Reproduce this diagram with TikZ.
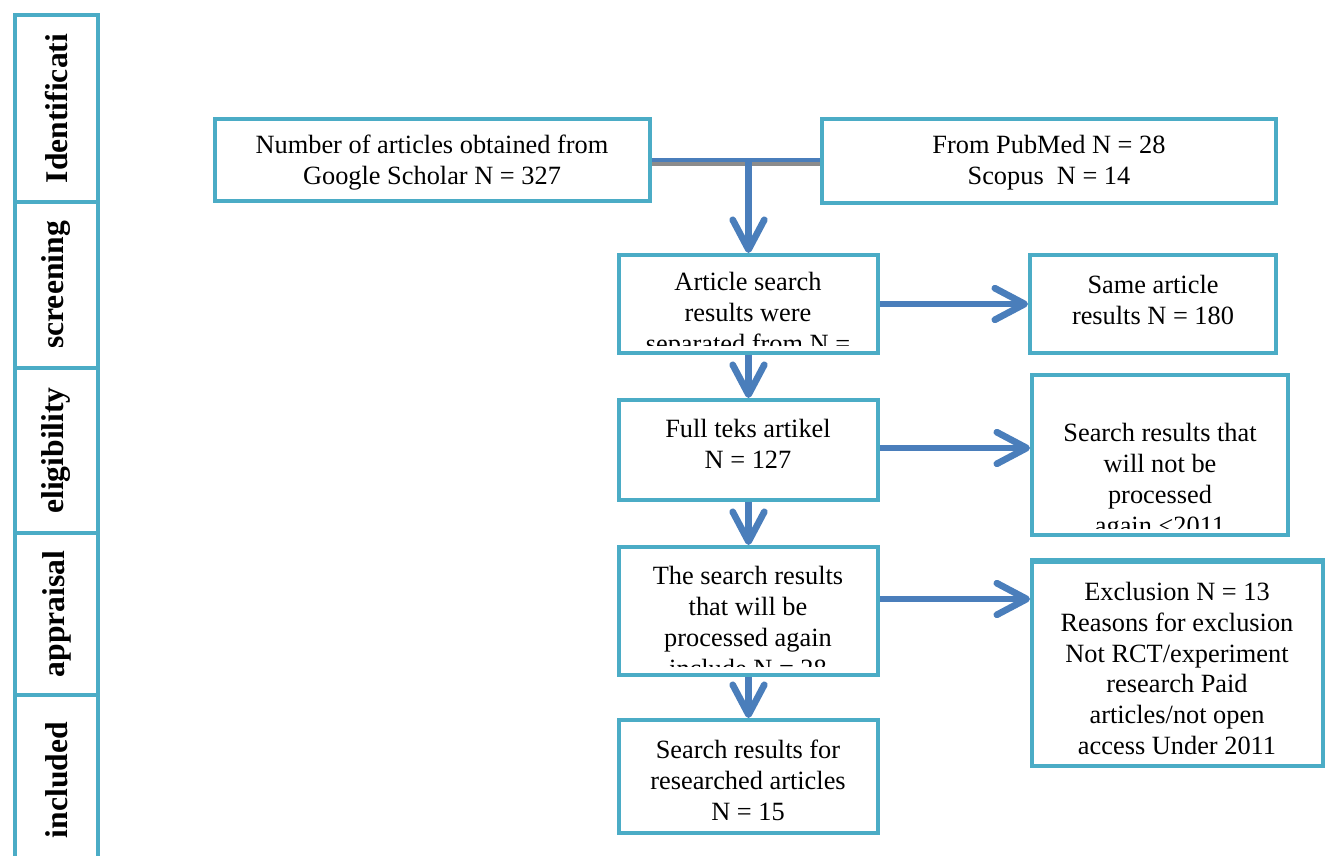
\documentclass[tikz,border=0pt]{standalone}
\usepackage{fontspec}
\setmainfont{Liberation Serif}
\usetikzlibrary{arrows.meta,calc}
\definecolor{boxteal}{HTML}{4BACC6}
\definecolor{arrowblue}{HTML}{4A7EBB}
\definecolor{shadowgray}{HTML}{8C8C8C}
\begin{document}
\begin{tikzpicture}[x=0.02cm,y=-0.02cm,
  box/.style={draw=boxteal, line width=2.3pt, inner sep=0pt, rectangle},
  side/.style={draw=boxteal, line width=2.3pt, inner sep=0pt, rectangle, minimum width=1.66cm,
    font=\fontsize{18}{20}\selectfont\bfseries},
  txt/.style={align=center, inner sep=0pt, font=\fontsize{15}{17.6}\selectfont},
  flow/.style={draw=arrowblue, line width=3.8pt, -{Straight Barb[length=17pt,width=18pt,round]}},
  joinline/.style={draw=arrowblue, line width=2.3pt},
  shadowline/.style={draw=shadowgray, line width=2.3pt}]
\useasboundingbox (0,0) rectangle (1328,855);

% stage column
\node[side, minimum height=3.74cm] (s1) at (56.5,108.5) {\rotatebox{90}{Identificati}};
\node[side, minimum height=3.32cm] (s2) at (56.5,285) {\rotatebox{90}{screening}};
\node[side, minimum height=3.30cm] (s3) at (56.5,450.5) {\rotatebox{90}{eligibility}};
\node[side, minimum height=3.24cm] (s4) at (56.5,614) {\rotatebox{90}{appraisal}};
\node[side, minimum height=3.40cm] (s5) at (56.5,780) {\rotatebox{90}{included}};

% boxes
\node[box, minimum width=8.70cm, minimum height=1.64cm] (b1) at (432.5,160) {};
\node[box, minimum width=9.08cm, minimum height=1.68cm] (b2) at (1049,161) {};
\node[box, minimum width=5.18cm, minimum height=1.96cm] (b3) at (748.5,304) {};
\node[box, minimum width=4.92cm, minimum height=1.96cm] (b4) at (1153,304) {};
\node[box, minimum width=5.18cm, minimum height=2.00cm] (b5) at (748.5,450) {};
\node[box, minimum width=5.12cm, minimum height=3.20cm] (b6) at (1160,455) {};
\node[box, minimum width=5.18cm, minimum height=2.56cm] (b7) at (748.5,611) {};
\node[box, minimum width=5.82cm, minimum height=4.08cm] (b8) at (1177.5,664) {};
\node[box, minimum width=5.18cm, minimum height=2.26cm] (b9) at (748.5,776.5) {};

% thin line below box b6
\draw[boxteal, line width=0.6pt] (1030,559) -- (1325,559);

% connectors
\coordinate (j) at (b3.north |- b1.east);
\draw[shadowline] ($(b1.east)+(0,4)$) -- ($(b2.west |- b1.east)+(0,4)$);
\draw[joinline] (b1.east) -- (b2.west |- b1.east);
\draw[flow] (j) -- (b3.north);
\draw[flow] (b3.east) -- (b4.west);
\draw[flow] (b3.south) -- (b5.north);
\coordinate (p5) at ($(b5.east)+(0,-2)$);
\draw[flow] (p5) -- (p5 -| b6.west);
\draw[flow] (b5.south) -- (b7.north);
\coordinate (p7) at ($(b7.east)+(0,-12)$);
\draw[flow] (p7) -- (p7 -| b8.west);
\draw[flow] (b7.south) -- (b9.north);

% texts
\node[txt] (t1) at (432,163) {Number of articles obtained from\\Google Scholar N = 327};
\node[txt] (t2) at (1049,163) {From PubMed N = 28\\Scopus\enspace N = 14};
\begin{scope}
\clip ($(b3.south west)+(2,-10)$) rectangle ($(b3.north east)+(-2,2)$);
\node[txt] (t3) at (748,315) {Article search\\results were\\separated from N =};
\end{scope}
\node[txt] (t4) at (1153,300) {Same article\\results N = 180};
\node[txt] (t5) at (748,444) {Full teks artikel\\N = 127};
\begin{scope}
\clip ($(b6.south west)+(2,-9)$) rectangle ($(b6.north east)+(-2,2)$);
\node[txt] (t6) at (1160,482) {Search results that\\will not be\\processed\\again <2011};
\end{scope}
\begin{scope}
\clip ($(b7.south west)+(2,-11)$) rectangle ($(b7.north east)+(-2,2)$);
\node[txt] (t7) at (748,622) {The search results\\that will be\\processed again\\include N = 28};
\end{scope}
\node[txt] (t8) at (1177,668.5) {Exclusion N = 13\\Reasons for exclusion\\Not RCT/experiment\\research Paid\\articles/not open\\access Under 2011};
\node[txt] (t9) at (748,780) {Search results for\\researched articles\\N = 15};
\end{tikzpicture}
\end{document}
